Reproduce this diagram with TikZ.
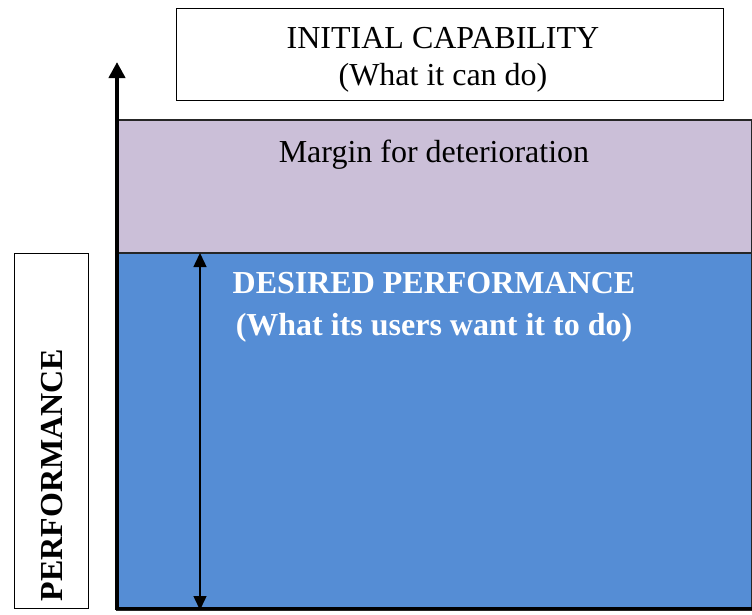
\documentclass[tikz,border=0pt]{standalone}
\usepackage{fontspec}
\setmainfont{Liberation Serif}
\usetikzlibrary{arrows.meta}
\definecolor{marginfill}{HTML}{CBBFD8}
\definecolor{desiredfill}{HTML}{558DD5}
\tikzset{
  labelbox/.style={draw=black, line width=1.2pt, fill=white},
  band/.style={draw=black!85, line width=1.2pt},
  maintext/.style={font=\fontsize{32}{37}\selectfont, align=center, inner sep=0pt},
}
\begin{document}
\begin{tikzpicture}[x=1pt, y=-1pt]
  \useasboundingbox (0,0) rectangle (752,614);
  % performance bands
  \path[band, fill=marginfill] (117,120) rectangle (752,253);
  \path[band, fill=desiredfill] (117,253) rectangle (752,610);
  % axes
  \draw[line width=3.5pt] (117,608.5) -- (752,608.5);
  \coordinate (axisbase) at (117,610);
  \coordinate (axistop) at (117,62);
  \draw[line width=4pt, -{Triangle[length=16pt, width=16pt]}] (axisbase) -- (axistop);
  % range of desired performance
  \coordinate (rangetop) at (200,253);
  \coordinate (rangebot) at (200,610);
  \draw[line width=1.5pt, {Triangle[length=14pt, width=13pt]}-{Triangle[length=14pt, width=13pt]}] (rangetop) -- (rangebot);
  % labels
  \node[labelbox, minimum width=547pt, minimum height=92pt, anchor=north west] (cap) at (176,8) {};
  \node[maintext] (captext) at (443,59.5) {INITIAL CAPABILITY\\(What it can do)};
  \node[maintext] (margin) at (434,155) {Margin for deterioration};
  \node[maintext, font=\fontsize{32}{42}\selectfont\bfseries, text=white] (desired) at (434,307) {DESIRED PERFORMANCE\\(What its users want it to do)};
  \node[labelbox, minimum width=74pt, minimum height=355pt, anchor=north west] (perf) at (14,253) {};
  \node[maintext, font=\fontsize{32}{37}\selectfont\bfseries, rotate=90] (perftext) at (52,475) {PERFORMANCE};
\end{tikzpicture}
\end{document}
